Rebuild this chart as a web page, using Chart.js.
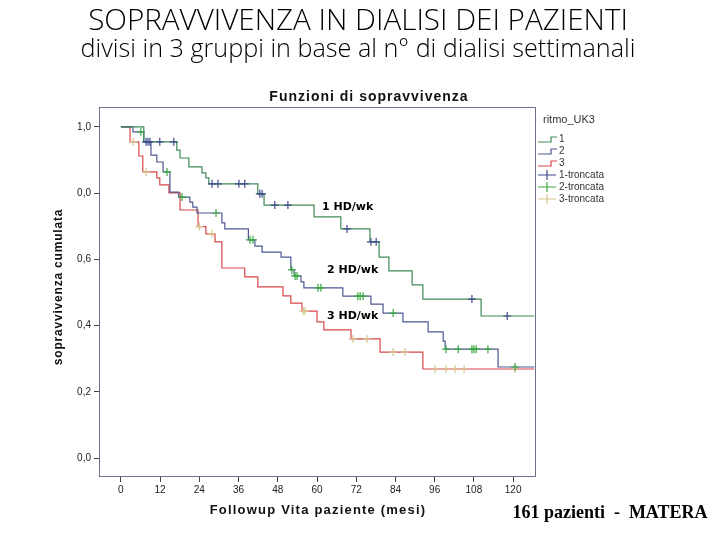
<!DOCTYPE html>
<html>
<head>
<meta charset="utf-8">
<script src="https://cdn.jsdelivr.net/npm/chart.js@4.4.1/dist/chart.umd.min.js"></script>
<style>
    html, body { margin: 0; padding: 0; background: #fff; }
    #wrap { width: 720px; height: 540px; }
</style>
</head>
<body>
<div id="wrap"><canvas id="kmChart" width="720" height="540"></canvas></div>
<script>
// Kaplan-Meier steps (months, cumulative survival)
const months1 = [0, 7.0, 17.1, 18.1, 20.8, 24.8, 26.0, 26.9, 41.9, 43.8, 59.1, 67.3, 76.2, 79.0, 82.0, 89.1, 92.4, 110.2, 126.5];
const surv1 = [1.0, 0.955, 0.930, 0.906, 0.879, 0.861, 0.846, 0.828, 0.798, 0.764, 0.728, 0.692, 0.653, 0.607, 0.565, 0.523, 0.480, 0.429, 0.429];

const months2 = [0, 3.7, 7.0, 9.2, 11.0, 12.9, 15.0, 17.7, 21.1, 22.0, 23.3, 30.9, 31.8, 39.0, 41.0, 43.2, 49.0, 52.0, 53.0, 55.1, 56.0, 67.9, 76.5, 80.2, 86.3, 94.0, 98.6, 99.2, 115.4, 126.5];
const surv2 = [1.0, 0.985, 0.955, 0.915, 0.894, 0.864, 0.803, 0.788, 0.773, 0.758, 0.740, 0.710, 0.692, 0.659, 0.640, 0.622, 0.607, 0.568, 0.550, 0.532, 0.514, 0.489, 0.465, 0.438, 0.411, 0.381, 0.353, 0.329, 0.275, 0.275];

const months3 = [0, 2.8, 5.5, 6.7, 11.0, 11.9, 14.7, 18.1, 23.6, 26.0, 28.8, 30.9, 37.9, 41.9, 49.6, 52.0, 55.4, 60.0, 62.1, 70.4, 79.3, 92.4, 126.5];
const surv3 = [1.0, 0.955, 0.912, 0.864, 0.846, 0.825, 0.801, 0.749, 0.699, 0.677, 0.653, 0.574, 0.547, 0.517, 0.490, 0.468, 0.444, 0.411, 0.387, 0.360, 0.320, 0.269, 0.269];

// censored patients (months)
const censor1 = [7.7, 8.3, 8.9, 11.9, 16.2, 27.9, 29.7, 36.1, 37.9, 42.5, 43.2, 47.1, 51.1, 69.2, 76.5, 78.1, 107.4, 118.2];
const censor2 = [6.1, 14.1, 18.7, 29.1, 39.5, 40.4, 52.3, 53.3, 53.9, 60.3, 61.2, 72.5, 73.2, 74.1, 83.3, 99.5, 103.2, 107.4, 108.0, 108.7, 112.3, 120.6];
const censor3 = [3.7, 7.7, 24.0, 27.9, 55.8, 56.3, 71.0, 75.3, 83.3, 86.9, 96.1, 99.5, 102.2, 105.0, 120.6];

const xTicks = [0, 12, 24, 36, 48, 60, 72, 84, 96, 108, 120];
const yTicks = [0, 0.2, 0.4, 0.6, 0.8, 1.0];
const yTickLabels = ['0,0', '0,2', '0,4', '0,6', '0,0', '1,0'];

const groupNames = ['1', '2', '3'];
const censorNames = ['1-troncata', '2-troncata', '3-troncata'];
const curveLabels = ['1 HD/wk', '2 HD/wk', '3 HD/wk'];

const lineColors = ['#3f8b57', '#4c5894', '#d8464b'];
const censorColors = ['#3d4d8e', '#3aa843', '#d9c48e'];

// value of the step curve at time t
function survAt(months, surv, t) {
    let s = surv[0];
    for (let i = 0; i < months.length; i++) {
        if (months[i] <= t) s = surv[i];
    }
    return s;
}

function curveData(months, surv) {
    return months.map((m, i) => ({ x: m, y: surv[i] }));
}

function censorData(censor, months, surv) {
    return censor.map(t => ({ x: t, y: survAt(months, surv, t) }));
}

// scale a font so the text spans a given width
function fitFont(ctx, text, weight, family, width) {
    ctx.font = `${weight} 20px ${family}`;
    const size = 20 * width / ctx.measureText(text).width;
    return `${weight} ${size.toFixed(2)}px ${family}`;
}

// frame, titles, legend and labels
const decorPlugin = {
    id: 'decor',
    afterDraw(chart) {
        const ctx = chart.ctx;
        const area = chart.chartArea;
        ctx.save();

        // plot frame
        ctx.strokeStyle = '#6d7284';
        ctx.lineWidth = 1;
        ctx.strokeRect(area.left + 0.5, area.top + 0.5, area.right - area.left, area.bottom - area.top);

        ctx.fillStyle = '#000';
        ctx.textAlign = 'center';
        ctx.textBaseline = 'middle';

        // page titles
        let title1 = 'SOPRAVVIVENZA IN DIALISI DEI PAZIENTI';
        ctx.font = fitFont(ctx, title1, 300, '"Open Sans"', 540);
        ctx.fillText(title1, 358, 22);
        let title2 = 'divisi in 3 gruppi in base al n° di dialisi settimanali';
        ctx.font = fitFont(ctx, title2, 300, '"Open Sans"', 555);
        ctx.fillText(title2, 358, 50);

        // chart title and axis titles, spaced out like the original
        ctx.fillStyle = '#111';
        ctx.letterSpacing = '1px';
        ctx.font = 'bold 14px "Liberation Sans"';
        ctx.fillText('Funzioni di sopravvivenza', 369, 97);

        ctx.letterSpacing = '1.2px';
        ctx.font = 'bold 13px "Liberation Sans"';
        ctx.fillText('Followup Vita paziente (mesi)', 318, 510);

        ctx.save();
        ctx.translate(59, 287);
        ctx.rotate(-Math.PI / 2);
        ctx.letterSpacing = '0.8px';
        ctx.font = 'bold 12px "Liberation Sans"';
        ctx.fillText('sopravvivenza cumulata', 0, 0);
        ctx.restore();
        ctx.letterSpacing = '0px';

        // footer
        ctx.fillStyle = '#000';
        let footer = '161 pazienti  -  MATERA';
        ctx.font = fitFont(ctx, footer, 'bold', '"Liberation Serif"', 195);
        ctx.fillText(footer, 610, 513);

        // curve labels inside the plot
        ctx.textAlign = 'left';
        ctx.font = 'bold 11px "DejaVu Sans"';
        const labelPos = [[322, 207], [327, 270], [327, 316]];
        curveLabels.forEach((txt, i) => {
            ctx.fillText(txt, labelPos[i][0], labelPos[i][1]);
        });

        // legend
        ctx.font = '11px "Liberation Sans"';
        ctx.fillStyle = '#333';
        ctx.fillText('ritmo_UK3', 543, 120);
        ctx.font = '10px "Liberation Sans"';
        let y = 139;
        groupNames.forEach((name, i) => {
            ctx.strokeStyle = lineColors[i];
            ctx.lineWidth = 1.2;
            ctx.beginPath();
            ctx.moveTo(538, y + 3);
            ctx.lineTo(551, y + 3);
            ctx.lineTo(551, y - 2);
            ctx.lineTo(557, y - 2);
            ctx.stroke();
            ctx.fillStyle = '#333';
            ctx.fillText(name, 559, y);
            y += 12;
        });
        censorNames.forEach((name, i) => {
            ctx.strokeStyle = censorColors[i];
            ctx.lineWidth = 1.2;
            ctx.beginPath();
            ctx.moveTo(538, y);
            ctx.lineTo(556, y);
            ctx.moveTo(547, y - 5);
            ctx.lineTo(547, y + 5);
            ctx.stroke();
            ctx.fillStyle = '#333';
            ctx.fillText(name, 559, y);
            y += 12;
        });

        ctx.restore();
    }
};

const lineSets = [
    [months1, surv1],
    [months2, surv2],
    [months3, surv3]
].map(([m, s], i) => ({
    type: 'line',
    label: groupNames[i],
    data: curveData(m, s),
    borderColor: lineColors[i],
    borderWidth: 1.2,
    stepped: 'before',
    pointRadius: 0,
    fill: false,
    order: 2
}));

const censorSets = [
    [censor1, months1, surv1],
    [censor2, months2, surv2],
    [censor3, months3, surv3]
].map(([c, m, s], i) => ({
    type: 'scatter',
    label: censorNames[i],
    data: censorData(c, m, s),
    pointStyle: 'cross',
    pointRadius: 4,
    borderColor: censorColors[i],
    borderWidth: 1.2,
    showLine: false,
    order: 1
}));

const ctx = document.getElementById('kmChart').getContext('2d');
const kmChart = new Chart(ctx, {
    data: { datasets: [...lineSets, ...censorSets] },
    options: {
        responsive: false,
        animation: false,
        layout: { padding: { top: 107, right: 185, left: 0, bottom: 0 } },
        plugins: {
            legend: { display: false },
            tooltip: { enabled: false },
            title: { display: false }
        },
        scales: {
            x: {
                type: 'linear',
                min: -6.7,
                max: 126.7,
                afterBuildTicks: scale => { scale.ticks = xTicks.map(v => ({ value: v })); },
                afterFit: scale => { scale.height = 64; },
                ticks: {
                    autoSkip: false,
                    maxRotation: 0,
                    padding: 2,
                    color: '#222',
                    font: { family: '"Liberation Sans"', size: 10 },
                    callback: v => String(v)
                },
                grid: { drawOnChartArea: false, drawTicks: true, tickLength: 6, tickColor: '#444' },
                border: { display: false }
            },
            y: {
                type: 'linear',
                min: -0.054,
                max: 1.06,
                afterBuildTicks: scale => { scale.ticks = yTicks.map(v => ({ value: v })); },
                afterFit: scale => { scale.width = 99; },
                ticks: {
                    autoSkip: false,
                    padding: 3,
                    color: '#222',
                    font: { family: '"Liberation Sans"', size: 10 },
                    callback: v => yTickLabels[yTicks.findIndex(t => Math.abs(t - v) < 1e-6)]
                },
                grid: { drawOnChartArea: false, drawTicks: true, tickLength: 5, tickColor: '#444' },
                border: { display: false }
            }
        }
    },
    plugins: [decorPlugin]
});
</script>
</body>
</html>
